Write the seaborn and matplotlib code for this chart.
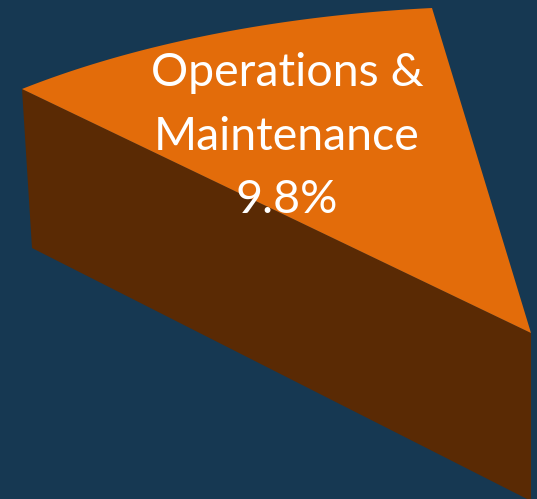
import numpy as np
import matplotlib
matplotlib.use("Agg")
import matplotlib.pyplot as plt
import seaborn as sns

# data
category = "Operations &\nMaintenance"
share = 9.8  # percent

# colours
bg_color = "#163852"
top_color = "#E36C0A"
side_color = "#5A2A04"

sns.set_theme(style="white")
plt.rcParams['font.family'] = ['Lato', 'DejaVu Sans']

fig = plt.figure(figsize=(5.37, 4.99), dpi=100)
fig.patch.set_facecolor(bg_color)
ax = fig.add_axes([0, 0, 1, 1])
ax.set_facecolor(bg_color)
ax.set_xlim(0, 537)
ax.set_ylim(499, 0)
ax.axis('off')

# projection of the tilted pie (pixel space): centre and the two radius ends
center = np.array([531.0, 333.0])
r_start = np.array([22.0, 89.0]) - center
r_end = np.array([432.0, 8.0]) - center
depth_left = np.array([10.0, 159.0])
depth_center = np.array([0.0, 168.0])

sweep = np.deg2rad(share / 100 * 360)
a1 = np.pi / 2
a2 = a1 + sweep
U = np.array([[np.cos(a1), np.cos(a2)], [np.sin(a1), np.sin(a2)]])
V = np.column_stack([r_start, r_end])
M = V @ np.linalg.inv(U)

theta = np.linspace(a1, a2, 100)
arc = (M @ np.vstack([np.cos(theta), np.sin(theta)])).T + center

# side face (radial wall under the start edge)
p_left = center + r_start
side = np.array([center, p_left, p_left + depth_left, center + depth_center])
ax.fill(side[:, 0], side[:, 1], color=side_color, lw=0)

# top face
top = np.vstack([center, arc])
ax.fill(top[:, 0], top[:, 1], color=top_color, lw=0)

# label
lines = category.split("\n") + [f"{share}%"]
for i, line in enumerate(lines):
    ax.text(287, 86 + i * 63.5, line, ha='center', va='baseline',
            color='white', fontsize=33.5)

fig.savefig("out.png", dpi=100, facecolor=bg_color)
